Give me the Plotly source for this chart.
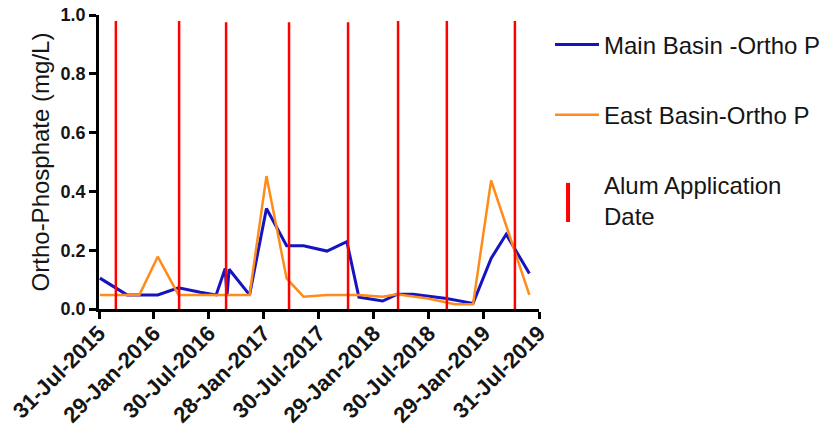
import plotly.graph_objects as go

# Main Basin ortho-P
main_dates = ["2015-08-03", "2015-11-01", "2016-02-11", "2016-04-20", "2016-07-01",
              "2016-08-23", "2016-09-22", "2016-09-28", "2016-10-05", "2016-12-12",
              "2017-02-06", "2017-04-14", "2017-06-09", "2017-08-26", "2017-10-31",
              "2017-12-10", "2018-02-27", "2018-04-15", "2018-06-08", "2018-09-27",
              "2018-12-24", "2019-02-22", "2019-04-13", "2019-06-29"]
main_vals = [0.105, 0.048, 0.048, 0.072, 0.057,
             0.048, 0.138, 0.045, 0.135, 0.048,
             0.342, 0.215, 0.215, 0.197, 0.229,
             0.040, 0.027, 0.050, 0.050, 0.036,
             0.019, 0.172, 0.254, 0.121]

# East Basin ortho-P
east_dates = ["2015-08-03", "2015-12-12", "2016-02-11", "2016-04-20", "2016-07-01",
              "2016-08-23", "2016-12-12", "2017-02-06", "2017-04-14", "2017-06-09",
              "2017-08-26", "2017-10-31", "2017-12-10", "2018-02-27", "2018-04-15",
              "2018-07-27", "2018-09-27", "2018-10-25", "2018-12-24", "2019-02-22",
              "2019-06-29"]
east_vals = [0.048, 0.048, 0.178, 0.048, 0.048,
             0.048, 0.048, 0.452, 0.104, 0.042,
             0.048, 0.048, 0.048, 0.042, 0.050,
             0.036, 0.022, 0.016, 0.016, 0.437,
             0.048]

# Alum application dates
alum_dates = ["2015-09-25", "2016-04-22", "2016-09-25", "2017-04-22",
              "2017-11-04", "2018-04-19", "2018-09-28", "2019-05-12"]
alum_tops = [0.98, 0.98, 0.975, 0.975, 0.975, 0.98, 0.98, 0.98]

tick_dates = ["2015-07-31", "2016-01-29", "2016-07-30", "2017-01-28", "2017-07-30",
              "2018-01-29", "2018-07-30", "2019-01-29", "2019-07-31"]
tick_text = ["31-Jul-2015", "29-Jan-2016", "30-Jul-2016", "28-Jan-2017", "30-Jul-2017",
             "29-Jan-2018", "30-Jul-2018", "29-Jan-2019", "31-Jul-2019"]
y_ticks = [0.0, 0.2, 0.4, 0.6, 0.8, 1.0]
y_tick_text = ["0.0", "0.2", "0.4", "0.6", "0.8", "1.0"]

FONT = "Liberation Sans, Arial, sans-serif"
TXT = "#151515"
BLUE = "#1414C0"
ORANGE = "#FF8C1A"
RED = "#FF0000"

alum_x, alum_y = [], []
for d, t in zip(alum_dates, alum_tops):
    alum_x += [d, d, None]
    alum_y += [0, t, None]

fig = go.Figure()
fig.add_trace(go.Scatter(x=main_dates, y=main_vals, mode="lines",
                         line=dict(color=BLUE, width=3),
                         name="Main Basin -Ortho P", legendgroup="a"))
fig.add_trace(go.Scatter(x=east_dates, y=east_vals, mode="lines",
                         line=dict(color=ORANGE, width=2.5),
                         name="East Basin-Ortho P", legendgroup="b"))
fig.add_trace(go.Scatter(x=alum_x, y=alum_y, mode="lines",
                         line=dict(color=RED, width=2.5),
                         showlegend=False, legendgroup="c", hoverinfo="skip"))
# legend entry for alum dates (key drawn as a tall red bar below)
fig.add_trace(go.Scatter(x=[None], y=[None], mode="markers",
                         marker=dict(symbol="line-ns", size=16,
                                     color="rgba(0,0,0,0)",
                                     line=dict(color="rgba(0,0,0,0)", width=0)),
                         name="Alum Application<br>Date", legendgroup="c"))

# tall red legend key like the original
fig.add_shape(type="line", xref="paper", yref="paper",
              x0=1.066, x1=1.066, y0=0.296, y1=0.429,
              line=dict(color=RED, width=4))

# the page body has an 8px margin, so the figure is sized/offset to compensate
fig.update_layout(
    width=830, height=421,
    margin=dict(l=91, r=299, t=7, b=120, pad=0),
    plot_bgcolor="white", paper_bgcolor="white",
    font=dict(family=FONT, color=TXT),
    showlegend=True,
    legend=dict(x=1.025, y=0.975, xanchor="left", yanchor="top",
                font=dict(family=FONT, size=24, color=TXT),
                tracegroupgap=36, itemwidth=44, bgcolor="rgba(0,0,0,0)"),
    xaxis=dict(type="date", range=["2015-07-31", "2019-07-31"], automargin=False,
               tickmode="array", tickvals=tick_dates, ticktext=tick_text,
               tickangle=-45, ticks="outside", ticklen=7, tickwidth=2.5,
               ticklabelstandoff=-7, ticklabeloverflow="allow",
               tickcolor="black", showline=True, linecolor="black", linewidth=2.5,
               showgrid=False, zeroline=False,
               tickfont=dict(family=FONT, size=22, weight="bold", color=TXT)),
    yaxis=dict(range=[0, 1.0], automargin=False, tickvals=y_ticks, ticktext=y_tick_text,
               ticks="outside", ticklen=7, tickwidth=2.5, tickcolor="black",
               ticklabeloverflow="allow",
               showline=True, linecolor="black", linewidth=2.5,
               showgrid=False, zeroline=False,
               tickfont=dict(family=FONT, size=18, weight="bold", color=TXT),
               title=dict(text="Ortho-Phosphate (mg/L)", standoff=5,
                          font=dict(family=FONT, size=24, color=TXT))),
)

fig.write_html("out.html")
